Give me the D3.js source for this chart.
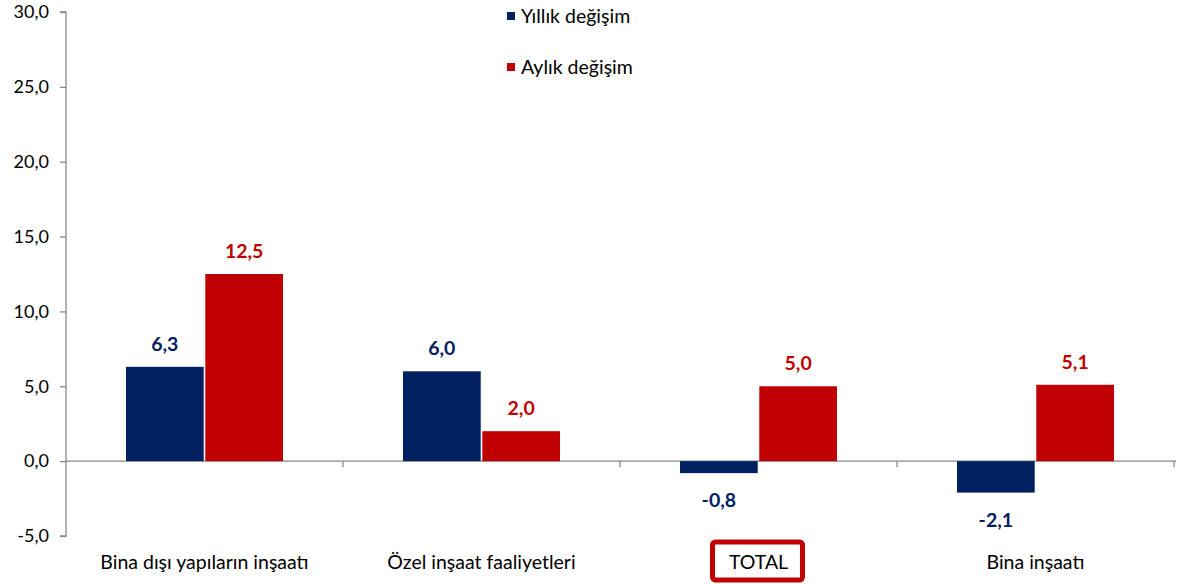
<!DOCTYPE html>
<html><head><meta charset="utf-8">
<script src="https://cdn.jsdelivr.net/npm/d3@7"></script>
<style>body{margin:0;background:#fff}svg{display:block}text{font-family:Lato,"Open Sans",sans-serif}</style>
</head><body><svg id="c" width="1177" height="584"></svg>
<script>
const categories = ["Bina dışı yapıların inşaatı","Özel inşaat faaliyetleri","TOTAL","Bina inşaatı"];
const yillik = [6.3, 6.0, -0.8, -2.1];
const aylik = [12.5, 2.0, 5.0, 5.1];
const seriesNames = ["Yıllık değişim","Aylık değişim"];
const yTicks = [-5,0,5,10,15,20,25,30];
const colors = ["#002060","#C00000"];

const svg = d3.select("#c");
const x0 = 66, x1 = 1174, yTop = 12, yBot = 536;
const y = d3.scaleLinear().domain([-5,30]).range([yBot,yTop]);
const x = d3.scaleBand().domain(categories).range([x0,x1]).paddingInner(0).paddingOuter(0);
const xs = d3.scaleBand().domain([0,1]).range([0,157]).paddingInner(0.02);
const fmt = v => d3.format(".1f")(v).replace(".",",").replace("−","-");

// y axis
const ya = svg.append("g").attr("transform",`translate(${x0},0)`)
  .call(d3.axisLeft(y).tickValues(yTicks).tickSize(6).tickPadding(11).tickFormat(fmt));
ya.select(".domain").attr("stroke","#898989").attr("stroke-width",1.3).attr("d",`M-6,${yTop}H0V${yBot}H-6`);
ya.selectAll(".tick line").attr("stroke","#898989").attr("stroke-width",1.3);
ya.selectAll(".tick text").attr("fill","#000").style("font-size","18px").attr("font-family","Lato");

// x axis at zero
const xa = svg.append("g").attr("transform",`translate(0,${y(0)})`)
  .call(d3.axisBottom(x).tickSize(0).tickFormat(""));
xa.select(".domain").attr("stroke","#898989").attr("stroke-width",1.3).attr("d",`M${x0},0H${x1+2}`);
categories.forEach((c,i)=>{
  const xx = x(c)+x.bandwidth();
  svg.append("line").attr("x1",xx).attr("x2",xx).attr("y1",y(0)).attr("y2",y(0)+6).attr("stroke","#898989").attr("stroke-width",1.3);
});

const data = [yillik, aylik];
const g = svg.append("g");
data.forEach((arr,s)=>{
  g.selectAll(null).data(arr).join("rect")
    .attr("x",(d,i)=>x(categories[i])+60+xs(s))
    .attr("width",xs.bandwidth())
    .attr("y",d=>y(Math.max(0,d)))
    .attr("height",d=>Math.abs(y(d)-y(0)))
    .attr("fill",colors[s]);
  g.selectAll(null).data(arr).join("text")
    .attr("x",(d,i)=>x(categories[i])+60+xs(s)+xs.bandwidth()/2)
    .attr("y",d=> d>=0 ? y(d)-16 : y(d)+34)
    .attr("text-anchor","middle")
    .attr("fill",colors[s]).attr("font-weight","bold").style("font-size","19.5px")
    .text(d=>fmt(d));
});

// category labels
categories.forEach(c=>{
  svg.append("text").attr("x",x(c)+x.bandwidth()/2).attr("y",569)
    .attr("text-anchor","middle").style("font-size","19.5px").attr("fill","#000").text(c);
});
// TOTAL box
const tc = x("TOTAL")+x.bandwidth()/2;
svg.append("rect").attr("x",tc-46).attr("y",542).attr("width",90).attr("height",38).attr("rx",3)
  .attr("fill","none").attr("stroke","#C00000").attr("stroke-width",5);

// legend
seriesNames.forEach((n,i)=>{
  const ly = 16 + i*51;
  svg.append("rect").attr("x",507).attr("y",ly-4).attr("width",8).attr("height",8).attr("fill",colors[i]);
  svg.append("text").attr("x",521).attr("y",ly+7).style("font-size","19.5px").attr("fill","#000").text(n);
});
</script></body></html>
